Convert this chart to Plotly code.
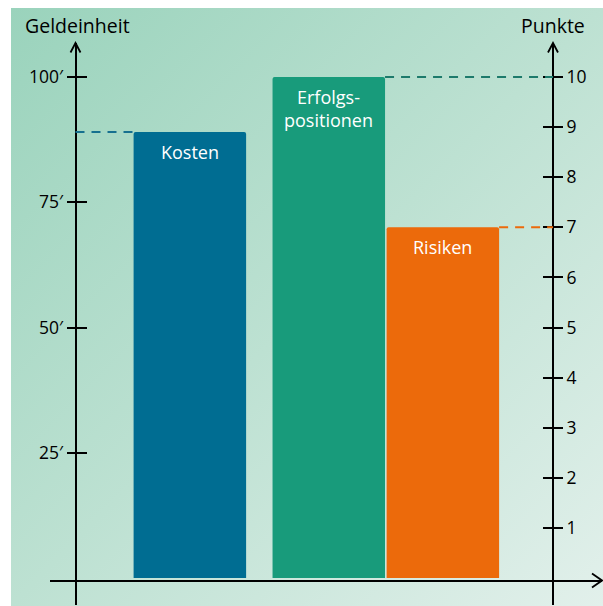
import base64
import plotly.graph_objects as go

# ---------------- data ----------------
categories = ["Kosten", "Erfolgspositionen", "Risiken"]
bar_labels = ["Kosten", "Erfolgs-<br>positionen", "Risiken"]
values = [89, 100, 70]                      # Geldeinheit
left_tickvals = [25, 50, 75, 100]
left_ticktext = ["25′", "50′", "75′", "100′"]
right_tickvals = [1, 2, 3, 4, 5, 6, 7, 8, 9, 10]
right_ticktext = ["1", "2", "3", "4", "5", "6", "7", "8", "9", "10"]
left_title = "Geldeinheit"
right_title = "Punkte"

# ---------------- layout / style ----------------
W, H = 603, 606
bar_pos = [1.012, 2.2416, 3.251]   # bar centres (x units: 0 = left axis)
bar_width = 0.9956
bar_colors = ["#006d92", "#189b7b", "#ec6a0b"]
dash_colors = ["#16708f", "#1d7a6b", "#ec6a0b"]
FONT = "Open Sans"

def fx(px):
    return px / W

def fy(py):
    return 1 - py / H

# axis geometry in px
left_axis_px, right_axis_px = 75.5, 553
x_dom_px = (50, 602)
x_axis_y_px = 580.5
y_dom_px = (43, 605)
zero_px, hundred_px = 578, 77
ppu = (zero_px - hundred_px) / 100.0
y_top = 100 + (hundred_px - y_dom_px[0]) / ppu
y_bot = -(y_dom_px[1] - zero_px) / ppu

unit_px = 113.0
x_lo = (x_dom_px[0] - left_axis_px) / unit_px
x_hi = (x_dom_px[1] - left_axis_px) / unit_px
right_axis_x = (right_axis_px - left_axis_px) / unit_px

fig = go.Figure()
fig.add_trace(go.Bar(
    x=bar_pos, y=values, width=bar_width,
    marker=dict(color=bar_colors, line=dict(width=0), cornerradius=2),
    hoverinfo="skip", showlegend=False,
))

# bar labels
for xc, v, lab in zip(bar_pos, values, bar_labels):
    fig.add_annotation(x=xc, y=v, xref="x", yref="y", text=lab, showarrow=False,
                       yanchor="top", yshift=-6,
                       font=dict(family=FONT, size=18, color="white"))

# dashed reference lines
half = bar_width / 2
dash = "9px,7px"
fig.add_shape(type="line", xref="x", yref="y", x0=0, x1=bar_pos[0] - half,
              y0=values[0], y1=values[0],
              line=dict(color=dash_colors[0], width=2, dash=dash))
fig.add_shape(type="line", xref="x", yref="y", x0=bar_pos[1] + half, x1=right_axis_x,
              y0=values[1], y1=values[1],
              line=dict(color=dash_colors[1], width=2, dash=dash))
fig.add_shape(type="line", xref="x", yref="y", x0=bar_pos[2] + half, x1=right_axis_x,
              y0=values[2], y1=values[2],
              line=dict(color=dash_colors[2], width=2, dash=dash))

# arrow heads
def arrow(points):
    p = "M {} {} L {} {} L {} {}".format(
        fx(points[0][0]), fy(points[0][1]), fx(points[1][0]), fy(points[1][1]),
        fx(points[2][0]), fy(points[2][1]))
    fig.add_shape(type="path", xref="paper", yref="paper", path=p,
                  line=dict(color="black", width=1.8))

arrow([(left_axis_px - 5, 52.5), (left_axis_px, 43), (left_axis_px + 5, 52.5)])
arrow([(right_axis_px - 5, 52.5), (right_axis_px, 43), (right_axis_px + 5, 52.5)])
arrow([(592, x_axis_y_px - 7), (602, x_axis_y_px), (592, x_axis_y_px + 7)])

# axis titles
fig.add_annotation(xref="paper", yref="paper", x=fx(23), y=fy(26), text=left_title,
                   showarrow=False, xanchor="left", yanchor="middle",
                   font=dict(family=FONT, size=19.5, color="black"))
fig.add_annotation(xref="paper", yref="paper", x=fx(587), y=fy(26), text=right_title,
                   showarrow=False, xanchor="right", yanchor="middle",
                   font=dict(family=FONT, size=19.5, color="black"))

# background gradient panel
svg = ('<svg xmlns="http://www.w3.org/2000/svg" width="592" height="598" '
       'preserveAspectRatio="none"><defs><linearGradient id="g" x1="0" y1="0" x2="1" y2="1">'
       '<stop offset="0" stop-color="#9ad3bc"/><stop offset="0.5" stop-color="#bde1d2"/>'
       '<stop offset="1" stop-color="#e2f0eb"/></linearGradient></defs>'
       '<rect width="592" height="598" fill="url(#g)"/></svg>')
src = "data:image/svg+xml;base64," + base64.b64encode(svg.encode()).decode()
fig.add_layout_image(dict(source=src, xref="paper", yref="paper", x=fx(11), y=fy(8),
                          sizex=592 / W, sizey=598 / H, xanchor="left", yanchor="top",
                          sizing="stretch", layer="below"))

tickfont = dict(family=FONT, size=17.5, color="black")
common_y = dict(range=[y_bot, y_top], domain=[fy(y_dom_px[1]), fy(y_dom_px[0])],
                showgrid=False, zeroline=False, fixedrange=True)

fig.update_layout(
    width=W, height=H,
    margin=dict(l=0, r=0, t=0, b=0),
    paper_bgcolor="white", plot_bgcolor="rgba(0,0,0,0)",
    xaxis=dict(range=[x_lo, x_hi], domain=[fx(x_dom_px[0]), fx(x_dom_px[1])],
               anchor="free", position=fy(x_axis_y_px),
               showline=True, linecolor="black", linewidth=1.8,
               showticklabels=False, ticks="", showgrid=False, zeroline=False),
    yaxis=dict(**common_y, anchor="free", position=fx(left_axis_px), side="left",
               showline=True, linecolor="black", linewidth=1.8,
               tickmode="array", tickvals=left_tickvals, ticktext=left_ticktext,
               ticks="outside", ticklen=8, tickwidth=1.6, tickcolor="black",
               tickfont=tickfont),
    yaxis2=dict(range=[y_bot / 10, y_top / 10], domain=common_y["domain"],
                showgrid=False, zeroline=False, overlaying="y",
                anchor="free", position=fx(right_axis_px), side="right",
                showline=True, linecolor="black", linewidth=1.8,
                tickmode="array", tickvals=right_tickvals, ticktext=right_ticktext,
                ticks="outside", ticklen=9, tickwidth=1.6, tickcolor="black",
                tickfont=tickfont),
    yaxis3=dict(**common_y, overlaying="y", anchor="free", position=fx(left_axis_px),
                side="left", showline=False, tickmode="array", tickvals=left_tickvals,
                ticks="inside", ticklen=10, tickwidth=1.6, tickcolor="black",
                showticklabels=False),
    yaxis4=dict(range=[y_bot / 10, y_top / 10], domain=common_y["domain"],
                showgrid=False, zeroline=False, overlaying="y",
                anchor="free", position=fx(right_axis_px), side="right",
                showline=False, tickmode="array", tickvals=right_tickvals,
                ticks="inside", ticklen=10, tickwidth=1.6, tickcolor="black",
                showticklabels=False),
)
# invisible traces so overlay axes render
fig.add_trace(go.Scatter(x=[None], y=[None], yaxis="y2", showlegend=False, hoverinfo="skip"))
fig.add_trace(go.Scatter(x=[None], y=[None], yaxis="y3", showlegend=False, hoverinfo="skip"))
fig.add_trace(go.Scatter(x=[None], y=[None], yaxis="y4", showlegend=False, hoverinfo="skip"))

fig.write_html("out.html")
